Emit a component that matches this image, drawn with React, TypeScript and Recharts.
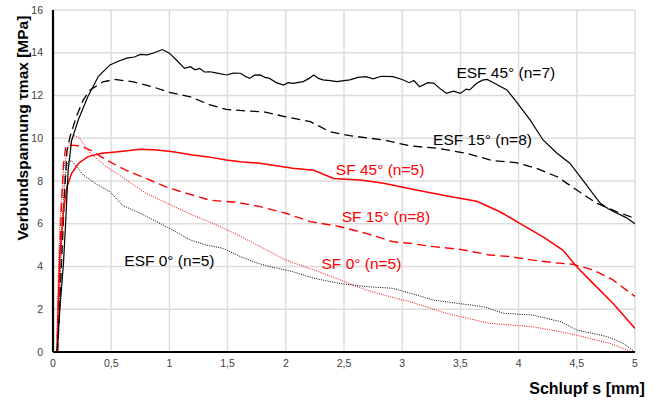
import { LineChart, Line, XAxis, YAxis, CartesianGrid, ReferenceDot, Label } from "recharts"

// Schlupf s [mm] / Verbundspannung [MPa]
const esf45S = [0.035, 0.06, 0.09, 0.11, 0.13, 0.16, 0.22, 0.3, 0.39, 0.49, 0.56, 0.635, 0.7, 0.75, 0.81, 0.87, 0.94, 1.0, 1.06, 1.13, 1.18, 1.22, 1.26, 1.3, 1.35, 1.41, 1.49, 1.55, 1.61, 1.65, 1.69, 1.73, 1.78, 1.82, 1.86, 1.92, 1.98, 2.02, 2.06, 2.15, 2.2, 2.24, 2.28, 2.32, 2.38, 2.44, 2.5, 2.55, 2.62, 2.69, 2.75, 2.82, 2.92, 3.0, 3.06, 3.1, 3.15, 3.22, 3.27, 3.33, 3.38, 3.44, 3.5, 3.55, 3.58, 3.64, 3.69, 3.73, 3.8, 3.9, 3.98, 4.1, 4.21, 4.33, 4.44, 4.55, 4.7, 4.77, 4.84, 4.92, 5.0]
const esf45T = [0, 2.1, 4.15, 6.2, 8.5, 9.9, 10.9, 11.95, 12.9, 13.43, 13.6, 13.75, 13.8, 13.92, 13.9, 14.0, 14.15, 13.98, 13.66, 13.27, 13.35, 13.2, 13.27, 13.1, 13.11, 13.05, 12.96, 13.05, 13.04, 12.9, 12.8, 12.95, 12.96, 12.85, 12.8, 12.6, 12.49, 12.6, 12.57, 12.65, 12.8, 12.96, 12.8, 12.73, 12.7, 12.65, 12.7, 12.73, 12.85, 12.88, 12.78, 12.9, 12.88, 12.75, 12.6, 12.7, 12.41, 12.6, 12.58, 12.3, 12.1, 12.2, 12.1, 12.3, 12.26, 12.57, 12.72, 12.75, 12.55, 12.26, 11.71, 10.85, 9.92, 9.3, 8.83, 8.05, 6.97, 6.7, 6.5, 6.3, 6.0]

const esf15S = [0.04, 0.06, 0.08, 0.1, 0.12, 0.146, 0.2, 0.26, 0.32, 0.43, 0.53, 0.69, 0.86, 1.0, 1.18, 1.35, 1.49, 1.65, 1.81, 2.0, 2.21, 2.38, 2.55, 2.84, 3.07, 3.3, 3.55, 3.78, 3.98, 4.15, 4.33, 4.5, 4.67, 4.84, 5.0]
const esf15T = [0, 2.5, 5, 7.5, 9.4, 10.07, 11.0, 11.8, 12.26, 12.64, 12.75, 12.64, 12.4, 12.15, 11.94, 11.56, 11.35, 11.28, 11.24, 11.0, 10.78, 10.3, 10.12, 9.92, 9.64, 9.53, 9.3, 8.95, 8.86, 8.6, 8.2, 7.58, 6.96, 6.57, 6.25]

const esf0S = [0.04, 0.06, 0.08, 0.1, 0.13, 0.16, 0.2, 0.26, 0.375, 0.49, 0.6, 0.75, 0.89, 1.03, 1.18, 1.32, 1.46, 1.61, 1.76, 1.86, 2.06, 2.24, 2.47, 2.69, 2.92, 3.07, 3.27, 3.47, 3.7, 3.87, 4.12, 4.36, 4.5, 4.76, 4.9, 5.0]
const esf0T = [0, 3, 6, 8.2, 8.9, 8.95, 8.7, 8.28, 7.85, 7.5, 6.85, 6.49, 6.1, 5.7, 5.24, 5.0, 4.85, 4.46, 4.15, 4.0, 3.76, 3.45, 3.2, 3.06, 2.98, 2.75, 2.43, 2.28, 2.12, 1.81, 1.73, 1.42, 1.03, 0.72, 0.4, 0]

const sf45S = [0.035, 0.046, 0.06, 0.09, 0.12, 0.16, 0.22, 0.3, 0.42, 0.56, 0.75, 0.89, 1.03, 1.2, 1.32, 1.49, 1.61, 1.78, 2.06, 2.24, 2.41, 2.64, 2.84, 3.12, 3.41, 3.64, 3.84, 4.01, 4.21, 4.38, 4.5, 4.64, 4.81, 5.0]
const sf45T = [0, 2.28, 4.6, 6.64, 7.73, 8.36, 8.83, 9.14, 9.3, 9.37, 9.48, 9.45, 9.37, 9.22, 9.14, 8.98, 8.9, 8.83, 8.6, 8.5, 8.12, 8.05, 7.89, 7.58, 7.27, 7.05, 6.56, 6.02, 5.39, 4.77, 3.99, 3.21, 2.28, 1.1]

const sf15S = [0.035, 0.05, 0.07, 0.09, 0.11, 0.146, 0.23, 0.32, 0.46, 0.63, 0.8, 0.98, 1.15, 1.35, 1.58, 1.78, 2.0, 2.21, 2.47, 2.69, 2.92, 3.07, 3.27, 3.5, 3.75, 3.93, 4.12, 4.3, 4.47, 4.64, 4.81, 5.0]
const sf15T = [0, 3, 6.5, 8.8, 9.6, 9.68, 9.65, 9.45, 8.98, 8.5, 8.12, 7.7, 7.42, 7.1, 7.0, 6.8, 6.49, 6.1, 5.86, 5.55, 5.16, 5.08, 4.93, 4.8, 4.54, 4.46, 4.3, 4.18, 4.1, 3.84, 3.37, 2.6]

const sf0S = [0.03, 0.046, 0.06, 0.09, 0.13, 0.18, 0.22, 0.32, 0.46, 0.63, 0.8, 0.98, 1.18, 1.38, 1.58, 1.78, 2.0, 2.24, 2.47, 2.69, 2.92, 3.07, 3.38, 3.75, 4.12, 4.36, 4.55, 4.78, 4.98]
const sf0T = [0, 3.84, 6.2, 8.5, 9.6, 10.12, 10.05, 9.3, 8.67, 8.05, 7.42, 6.96, 6.45, 6.0, 5.5, 4.93, 4.3, 3.84, 3.37, 2.9, 2.55, 2.35, 1.81, 1.34, 1.18, 0.95, 0.72, 0.41, 0]

const xTicks = [0, 0.5, 1, 1.5, 2, 2.5, 3, 3.5, 4, 4.5, 5]
const yTicks = [0, 2, 4, 6, 8, 10, 12, 14, 16]

const labels = [
    { text: "ESF 45° (n=7)", x: 3.89, y: 13.08, color: "#000" },
    { text: "ESF 15° (n=8)", x: 3.69, y: 9.92, color: "#000" },
    { text: "SF 45° (n=5)", x: 2.81, y: 8.56, color: "#ff0000" },
    { text: "SF 15° (n=8)", x: 2.86, y: 6.34, color: "#ff0000" },
    { text: "SF 0° (n=5)", x: 2.65, y: 4.14, color: "#ff0000" },
    { text: "ESF 0° (n=5)", x: 1.0, y: 4.26, color: "#000" },
]

const zip = (s: number[], t: number[]) => s.map((x, i) => ({ x, y: t[i] }))

const FONT = '"Liberation Sans", Arial, sans-serif'
const fmt = (v: number) => String(v).replace(".", ",")

export default function App() {
    return (
        <div style={{ width: 659, height: 400, fontFamily: FONT }}>
            <style>{"body{margin:0}"}</style>
            <LineChart width={659} height={400} margin={{ top: 10, right: 24, bottom: 28, left: 0 }}>
                <CartesianGrid stroke="#dcdcdc" strokeWidth={1.4} />
                <XAxis type="number" dataKey="x" domain={[0, 5]} ticks={xTicks} tickFormatter={fmt}
                    height={20} axisLine={{ stroke: "#000", strokeWidth: 2.2 }} tickLine={false}
                    tick={{ fontSize: 10.5, fill: "#404040", fontFamily: FONT }} interval={0} allowDataOverflow>
                    <Label content={() => (
                        <text x={587} y={394} textAnchor="middle" fontSize={16} fontWeight="bold" fontFamily={FONT} fill="#000">Schlupf s [mm]</text>
                    )} />
                </XAxis>
                <XAxis xAxisId="top" orientation="top" type="number" domain={[0, 5]} height={0}
                    tick={false} tickLine={false} axisLine={{ stroke: "#000", strokeWidth: 1.5 }} />
                <YAxis type="number" domain={[0, 16]} ticks={yTicks} width={53} tickMargin={4}
                    axisLine={{ stroke: "#000", strokeWidth: 2.2 }} tickLine={false}
                    tick={{ fontSize: 10.5, fill: "#404040", fontFamily: FONT }} interval={0} allowDataOverflow>
                    <Label content={() => (
                        <text x={22} y={128} transform="rotate(-90 22 128)" textAnchor="middle" dominantBaseline="central"
                            fontSize={15.5} fontWeight="bold" fontFamily={FONT} fill="#000">Verbundspannung τmax [MPa]</text>
                    )} />
                </YAxis>
                <YAxis yAxisId="right" orientation="right" type="number" domain={[0, 16]} width={0}
                    tick={false} tickLine={false} axisLine={{ stroke: "#000", strokeWidth: 1.5 }} />

                <Line data={zip(sf0S, sf0T)} dataKey="y" type="linear" stroke="#ff0000" strokeWidth={1}
                    strokeDasharray="1 1.3" dot={false} isAnimationActive={false} />
                <Line data={zip(esf0S, esf0T)} dataKey="y" type="linear" stroke="#000" strokeWidth={1}
                    strokeDasharray="1 1.3" dot={false} isAnimationActive={false} />
                <Line data={zip(sf15S, sf15T)} dataKey="y" type="linear" stroke="#ff0000" strokeWidth={1.4}
                    strokeDasharray="9 5" dot={false} isAnimationActive={false} />
                <Line data={zip(esf15S, esf15T)} dataKey="y" type="linear" stroke="#000" strokeWidth={1.3}
                    strokeDasharray="9 5" dot={false} isAnimationActive={false} />
                <Line data={zip(sf45S, sf45T)} dataKey="y" type="linear" stroke="#ff0000" strokeWidth={1.5}
                    dot={false} isAnimationActive={false} />
                <Line data={zip(esf45S, esf45T)} dataKey="y" type="linear" stroke="#000" strokeWidth={1.2}
                    dot={false} isAnimationActive={false} />

                {labels.map((l) => (
                    <ReferenceDot key={l.text} x={l.x} y={l.y} r={0} fill="none" stroke="none"
                        label={{ value: l.text, position: "center", fill: l.color, fontSize: 15.5, fontFamily: FONT }} />
                ))}
            </LineChart>
        </div>
    )
}
